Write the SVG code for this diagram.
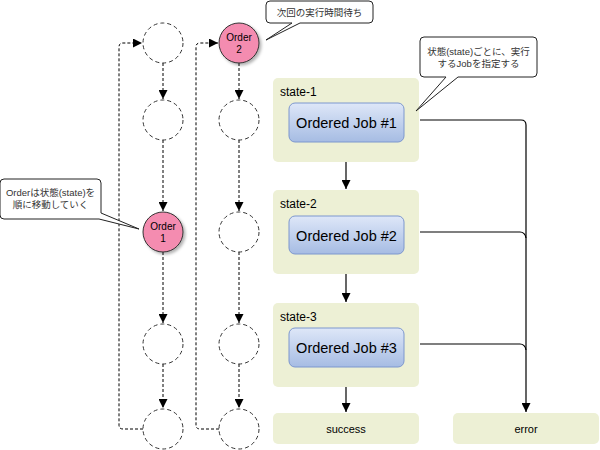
<svg xmlns="http://www.w3.org/2000/svg" width="600" height="450" viewBox="0 0 600 450">
<style>
text{font-family:"Liberation Sans","Noto Sans CJK JP",sans-serif;fill:#000}
.slot{fill:#fff;stroke:#333;stroke-width:1;stroke-dasharray:4,3}
.order{fill:#F48CB0;stroke:#333;stroke-width:1}
.state{fill:#EDF0D5;stroke:none}
.job{fill:url(#jg);stroke:#7D97CE;stroke-width:1}
.dash{fill:none;stroke:#000;stroke-width:1;stroke-dasharray:3,2}
.solid{fill:none;stroke:#000;stroke-width:1.2}
.call{fill:#fff;stroke:#222;stroke-width:1}
.ot{font-size:10px;text-anchor:middle}
.ct{font-size:9.5px;text-anchor:middle;fill:#333}
.st{font-size:12px}
.jt{font-size:14.5px;text-anchor:middle}
.et{font-size:11px;text-anchor:middle}
</style>
<defs>
<linearGradient id="jg" x1="0" y1="0" x2="0" y2="1">
<stop offset="0" stop-color="#DEE7F8"/>
<stop offset="1" stop-color="#A6BCE3"/>
</linearGradient>
<filter id="sh" x="-30%" y="-30%" width="160%" height="160%">
<feDropShadow dx="2" dy="2" stdDeviation="1.5" flood-color="#000" flood-opacity="0.3"/>
</filter>
<marker id="ah" viewBox="0 0 10 10" refX="10" refY="5" markerWidth="9" markerHeight="9" markerUnits="userSpaceOnUse" orient="auto">
<path d="M0,0 L10,5 L0,10 Z" fill="#000"/>
</marker>
</defs>

<g id="connectors">
<path class="dash" d="M143 429 H123 Q119 429 119 425 V47 Q119 43 123 43 H142" marker-end="url(#ah)"/>
<path class="dash" d="M163 63 V99" marker-end="url(#ah)"/>
<path class="dash" d="M163 140 V211" marker-end="url(#ah)"/>
<path class="dash" d="M163 252 V323" marker-end="url(#ah)"/>
<path class="dash" d="M163 364 V408" marker-end="url(#ah)"/>
<path class="dash" d="M219 429 H200 Q196 429 196 425 V47 Q196 43 200 43 H218" marker-end="url(#ah)"/>
<path class="dash" d="M239 63 V99" marker-end="url(#ah)"/>
<path class="dash" d="M239 140 V211" marker-end="url(#ah)"/>
<path class="dash" d="M239 252 V323" marker-end="url(#ah)"/>
<path class="dash" d="M239 364 V408" marker-end="url(#ah)"/>
<path class="solid" d="M346 162 V189" marker-end="url(#ah)"/>
<path class="solid" d="M346 274 V302" marker-end="url(#ah)"/>
<path class="solid" d="M346 387 V412" marker-end="url(#ah)"/>
<path class="solid" d="M420 120 H521 Q526 120 526 125 V412" marker-end="url(#ah)"/>
<path class="solid" d="M420 232 H520 Q525 232 526 238"/>
<path class="solid" d="M420 344 H520 Q525 344 526 350"/>
</g>

<g id="slot1-1"><circle class="slot" cx="163" cy="43" r="20"/></g>
<g id="slot1-2"><circle class="slot" cx="163" cy="120" r="20"/></g>
<g id="order1"><circle class="order" cx="163" cy="232" r="20" filter="url(#sh)"/><text class="ot" x="163" y="230">Order</text><text class="ot" x="163" y="242">1</text></g>
<g id="slot1-4"><circle class="slot" cx="163" cy="344" r="20"/></g>
<g id="slot1-5"><circle class="slot" cx="163" cy="429" r="20"/></g>

<g id="order2"><circle class="order" cx="239" cy="43" r="20" filter="url(#sh)"/><text class="ot" x="239" y="41">Order</text><text class="ot" x="239" y="53">2</text></g>
<g id="slot2-2"><circle class="slot" cx="239" cy="120" r="20"/></g>
<g id="slot2-3"><circle class="slot" cx="239" cy="232" r="20"/></g>
<g id="slot2-4"><circle class="slot" cx="239" cy="344" r="20"/></g>
<g id="slot2-5"><circle class="slot" cx="239" cy="429" r="20"/></g>

<g id="state1"><rect class="state" x="273" y="78" width="146" height="84" rx="5"/><text class="st" x="280" y="96">state-1</text></g>
<g id="job1"><rect class="job" x="289" y="103" width="115" height="39" rx="6"/><text class="jt" x="346.5" y="128">Ordered Job #1</text></g>
<g id="state2"><rect class="state" x="273" y="190" width="146" height="84" rx="5"/><text class="st" x="280" y="208">state-2</text></g>
<g id="job2"><rect class="job" x="289" y="216" width="115" height="38" rx="6"/><text class="jt" x="346.5" y="241">Ordered Job #2</text></g>
<g id="state3"><rect class="state" x="273" y="303" width="146" height="84" rx="5"/><text class="st" x="280" y="321">state-3</text></g>
<g id="job3"><rect class="job" x="289" y="328" width="115" height="39" rx="6"/><text class="jt" x="346.5" y="353">Ordered Job #3</text></g>
<g id="success"><rect class="state" x="273" y="413" width="146" height="31" rx="5"/><text class="et" x="346" y="433">success</text></g>
<g id="error"><rect class="state" x="453" y="413" width="146" height="31" rx="5"/><text class="et" x="526" y="433">error</text></g>

<g id="callout-wait">
<path class="call" d="M270 1 H369 Q373 1 373 5 V19 Q373 23 369 23 H300 L266 40 L292 23 H270 Q266 23 266 19 V5 Q266 1 270 1 Z"/>
<text class="ct" x="319.5" y="16">次回の実行時間待ち</text>
</g>
<g id="callout-state">
<path class="call" d="M424 37 H533 Q537 37 537 41 V73 Q537 77 533 77 H458 L416 111 L446 77 H424 Q420 77 420 73 V41 Q420 37 424 37 Z"/>
<text class="ct" x="478.5" y="55">状態(state)ごとに、実行</text>
<text class="ct" x="478.5" y="67">するJobを指定する</text>
</g>
<g id="callout-order">
<path class="call" d="M4 179 H97 Q101 179 101 183 V213 L139 229 L99 219 H4 Q0 219 0 215 V183 Q0 179 4 179 Z"/>
<text class="ct" x="50.5" y="196">Orderは状態(state)を</text>
<text class="ct" x="50.5" y="208">順に移動していく</text>
</g>
</svg>
